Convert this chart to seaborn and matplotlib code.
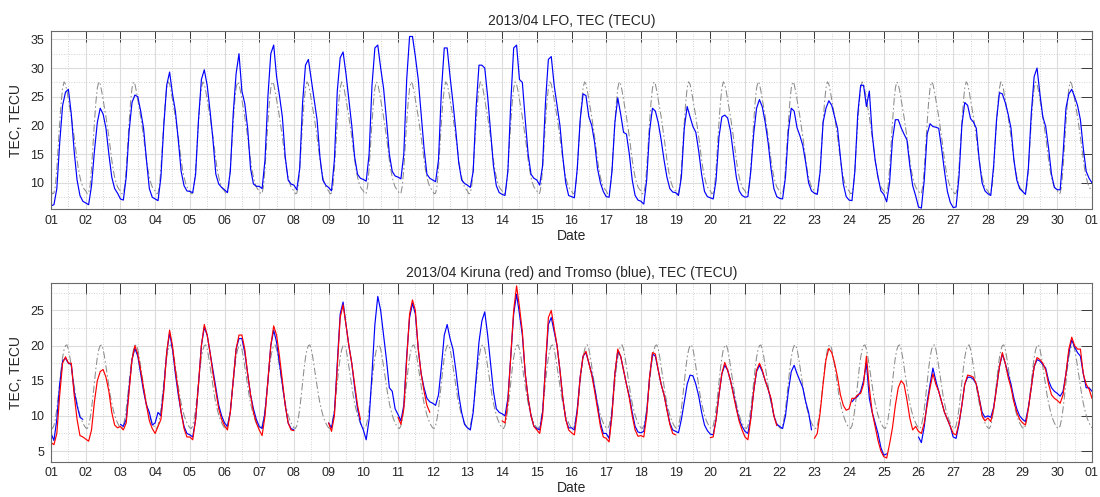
import numpy as np
import pandas as pd
import matplotlib
matplotlib.use("Agg")
import matplotlib.pyplot as plt
import seaborn as sns
from matplotlib.ticker import MultipleLocator, FixedLocator

nan = np.nan

# ---------------- data ----------------
days = list(range(1, 31))                      # April 2013
sample_hours = [0, 2, 4, 6, 8, 10, 12, 14, 16, 18, 20, 22]
tick_labels = ["%02d" % d for d in days] + ["01"]

# monthly reference (grey dash-dot) diurnal profiles, hourly values
lfo_ref_profile = [8.6, 8.1, 8.2, 9.5, 12.5, 16.5, 20.5, 24.0, 26.5, 27.6, 27.2, 26.0,
                   24.5, 23.0, 21.5, 19.8, 18.0, 16.0, 14.0, 12.3, 11.0, 10.0, 9.3, 8.9]
north_ref_profile = [8.3, 8.2, 8.6, 9.6, 11.0, 12.8, 14.8, 16.7, 18.3, 19.4, 20.0, 20.1,
                     19.5, 18.4, 17.0, 15.6, 14.2, 12.9, 11.8, 10.9, 10.1, 9.5, 9.0, 8.6]

# LFO TEC, one row per day (values at sample_hours)
lfo_tec = [
    [6.0, 6.2, 9.0, 17.0, 23.5, 25.8, 26.3, 22.0, 15.5, 10.5, 7.8, 6.8],
    [6.5, 6.2, 9.5, 15.5, 20.5, 23.0, 22.0, 19.5, 15.0, 11.0, 9.0, 8.2],
    [7.2, 7.0, 11.0, 19.0, 24.0, 25.3, 25.0, 22.5, 19.5, 14.0, 9.0, 7.5],
    [7.2, 6.9, 11.0, 20.0, 27.0, 29.3, 25.5, 22.5, 17.5, 12.0, 9.5, 8.6],
    [8.5, 8.3, 11.5, 21.0, 28.0, 29.7, 27.0, 22.5, 17.5, 11.5, 9.8, 9.2],
    [8.8, 8.3, 12.0, 22.0, 29.0, 32.5, 26.0, 23.8, 19.5, 12.5, 9.8, 9.4],
    [9.4, 9.0, 14.0, 25.0, 32.5, 34.0, 28.5, 25.2, 21.5, 14.5, 10.5, 9.8],
    [9.6, 8.8, 12.5, 24.0, 30.5, 31.5, 28.0, 24.5, 21.0, 14.5, 10.5, 9.6],
    [9.2, 8.6, 14.0, 26.0, 31.8, 32.8, 29.0, 24.5, 20.0, 14.5, 11.5, 10.8],
    [10.6, 10.3, 15.0, 27.0, 33.5, 34.0, 30.0, 26.5, 21.0, 15.0, 12.0, 11.2],
    [11.0, 10.7, 15.0, 28.0, 35.5, 35.5, 32.0, 28.0, 22.0, 16.0, 11.5, 10.8],
    [10.5, 10.2, 14.0, 26.0, 33.5, 33.5, 28.5, 24.0, 19.0, 13.5, 10.5, 9.9],
    [9.6, 9.2, 12.0, 23.0, 30.5, 30.5, 30.0, 25.0, 19.0, 13.0, 9.5, 8.3],
    [8.0, 7.8, 12.0, 24.0, 33.5, 34.0, 28.0, 27.5, 21.0, 15.0, 11.5, 10.8],
    [10.5, 9.6, 13.0, 24.0, 31.5, 32.0, 27.0, 23.5, 20.0, 14.5, 10.0, 7.8],
    [7.6, 7.4, 12.5, 21.0, 25.5, 25.2, 21.5, 20.0, 17.0, 12.5, 10.0, 8.5],
    [7.6, 7.5, 12.0, 20.5, 24.8, 22.0, 18.8, 18.5, 15.0, 10.5, 7.8, 7.0],
    [6.8, 6.3, 10.5, 19.0, 23.0, 22.5, 20.5, 17.5, 14.0, 11.0, 9.0, 8.4],
    [8.3, 7.8, 11.0, 19.5, 23.3, 21.5, 19.8, 18.8, 15.5, 11.5, 8.5, 7.6],
    [7.4, 7.2, 10.5, 18.0, 21.5, 21.8, 21.3, 19.0, 15.0, 11.0, 8.6, 7.8],
    [7.5, 7.6, 12.0, 18.5, 23.0, 24.5, 23.2, 20.5, 17.0, 12.5, 9.0, 7.6],
    [7.3, 7.2, 11.0, 19.0, 23.0, 22.5, 19.6, 18.2, 16.5, 13.5, 10.0, 8.6],
    [8.2, 8.0, 12.0, 20.5, 23.0, 24.3, 23.5, 21.5, 19.5, 14.5, 9.8, 7.6],
    [7.0, 6.9, 12.0, 22.0, 27.0, 27.0, 23.3, 26.0, 18.5, 14.0, 11.0, 8.6],
    [8.0, 6.7, 10.0, 17.5, 21.0, 21.0, 19.6, 18.5, 17.5, 13.0, 9.5, 7.8],
    [5.8, 5.6, 10.5, 18.5, 20.3, 19.8, 19.7, 19.5, 16.0, 12.0, 8.5, 6.6],
    [5.7, 5.8, 11.0, 20.0, 24.0, 23.5, 21.2, 20.6, 19.5, 14.0, 10.0, 8.6],
    [8.1, 7.8, 13.0, 21.0, 25.7, 25.5, 24.0, 22.0, 19.5, 14.0, 10.5, 9.0],
    [8.5, 8.0, 12.5, 22.0, 28.5, 30.0, 25.5, 21.5, 19.8, 16.0, 11.5, 9.2],
    [8.8, 8.8, 15.0, 23.0, 25.5, 26.3, 25.0, 23.5, 21.0, 16.0, 12.0, 10.8],
]
lfo_tec_end = 10.0

# Kiruna TEC (red)
kiruna_tec = [
    [6.2, 5.9, 7.5, 13.0, 17.5, 18.4, 17.5, 17.5, 13.0, 9.5, 7.2, 7.0],
    [6.7, 6.4, 8.0, 12.0, 15.0, 16.3, 16.6, 15.5, 13.5, 10.5, 8.7, 8.3],
    [8.5, 8.0, 9.0, 13.5, 18.0, 20.0, 18.8, 16.5, 14.0, 11.5, 9.3, 8.2],
    [7.5, 8.5, 9.5, 13.5, 19.0, 22.2, 20.0, 16.5, 13.5, 10.5, 8.2, 7.0],
    [7.0, 6.6, 9.5, 14.5, 20.0, 23.0, 21.5, 19.0, 16.0, 13.5, 11.0, 9.5],
    [8.6, 8.0, 10.5, 15.0, 19.5, 21.5, 21.5, 19.5, 16.0, 13.0, 10.5, 9.0],
    [8.0, 7.2, 10.0, 15.0, 20.0, 22.8, 21.5, 18.5, 15.0, 11.5, 9.0, 8.0],
    [7.9, nan, nan, nan, nan, nan, nan, nan, nan, nan, nan, nan],
    [9.0, 7.8, 10.0, 17.0, 24.0, 25.8, 23.0, 20.0, 17.5, 14.5, 11.5, 9.5],
    [nan, nan, nan, nan, nan, nan, nan, nan, nan, nan, nan, nan],
    [9.8, 8.8, 11.0, 18.0, 24.5, 26.5, 25.0, 19.5, 16.0, 13.5, 11.5, 10.5],
    [nan, nan, nan, nan, nan, nan, nan, nan, nan, nan, nan, nan],
    [nan, nan, nan, nan, nan, nan, nan, nan, nan, nan, nan, nan],
    [9.3, 9.0, 12.0, 18.5, 25.0, 28.5, 25.5, 22.0, 16.0, 12.5, 10.0, 8.5],
    [8.0, 7.5, 10.0, 17.0, 24.0, 25.0, 22.5, 20.0, 16.5, 12.5, 9.5, 8.0],
    [7.6, 7.3, 10.5, 15.5, 18.5, 19.2, 17.5, 15.8, 13.5, 11.0, 8.5, 7.0],
    [6.8, 6.3, 10.0, 16.0, 19.5, 18.5, 16.5, 14.5, 12.5, 10.0, 8.0, 7.1],
    [7.2, 7.0, 10.0, 15.5, 19.0, 18.8, 16.5, 14.5, 13.0, 10.8, 8.8, 7.5],
    [7.3, nan, nan, nan, nan, nan, nan, nan, nan, nan, nan, nan],
    [6.9, 7.0, 9.5, 13.0, 16.0, 17.6, 16.5, 15.0, 13.0, 11.0, 9.2, 8.0],
    [7.0, 6.6, 9.5, 13.5, 16.5, 17.5, 16.5, 15.0, 13.8, 12.5, 10.0, 8.6],
    [nan, nan, nan, nan, nan, nan, nan, nan, nan, nan, nan, nan],
    [6.8, 7.5, 10.5, 14.5, 18.0, 19.6, 19.0, 17.5, 15.5, 13.0, 11.5, 10.8],
    [11.0, 12.5, 12.5, 13.0, 13.2, 14.5, 18.5, 14.0, 10.5, 8.5, 6.5, 5.0],
    [4.2, 4.0, 6.0, 8.3, 11.5, 14.0, 15.0, 14.5, 12.3, 9.7, 8.0, 8.5],
    [7.8, 7.5, 9.0, 11.5, 14.0, 16.0, 14.5, 13.5, 12.0, 10.5, 9.5, 8.5],
    [7.5, 7.3, 9.0, 11.5, 14.5, 15.8, 15.7, 15.5, 14.5, 12.5, 10.0, 9.3],
    [9.7, 9.2, 11.0, 14.0, 17.0, 19.0, 17.5, 15.5, 14.0, 12.0, 10.5, 9.5],
    [9.0, 8.7, 11.0, 14.0, 17.0, 18.3, 18.0, 17.5, 16.5, 14.5, 13.0, 12.5],
    [12.2, 11.8, 13.0, 16.0, 19.5, 21.2, 20.0, 19.5, 19.5, 16.0, 14.5, 13.8],
]
kiruna_tec_end = 12.5

# Tromso TEC (blue)
tromso_tec = [
    [7.5, 6.5, 9.5, 14.5, 17.8, 18.2, 17.5, 17.3, 13.5, 11.5, 9.8, 9.5],
    [nan, nan, nan, nan, nan, nan, nan, nan, nan, nan, nan, nan],
    [8.8, 8.5, 9.5, 14.0, 18.0, 19.6, 18.5, 16.0, 13.5, 11.5, 10.5, 8.7],
    [9.0, 10.5, 10.0, 14.0, 19.0, 21.8, 19.5, 16.0, 13.0, 10.5, 8.5, 7.5],
    [7.3, 7.0, 9.5, 14.5, 20.0, 22.6, 21.5, 19.0, 16.5, 14.0, 11.5, 10.0],
    [9.0, 8.5, 10.5, 15.0, 19.5, 21.0, 21.0, 19.0, 16.0, 13.0, 11.0, 9.5],
    [8.5, 8.2, 10.5, 15.0, 20.0, 22.2, 20.5, 17.5, 14.5, 11.5, 9.0, 8.2],
    [8.0, nan, nan, nan, nan, nan, nan, nan, nan, nan, nan, nan],
    [9.0, 8.3, 10.5, 17.5, 24.5, 26.2, 23.0, 20.0, 17.5, 14.0, 11.0, 9.0],
    [8.0, 6.6, 9.5, 16.0, 23.0, 27.0, 25.0, 21.5, 18.0, 14.0, 13.5, 11.0],
    [10.2, 9.3, 11.5, 18.5, 24.0, 26.0, 24.5, 19.5, 16.0, 14.0, 12.5, 12.0],
    [11.8, 11.5, 13.0, 17.0, 21.5, 23.0, 21.0, 19.5, 16.5, 13.0, 10.5, 8.8],
    [8.3, 8.0, 10.5, 15.5, 20.5, 23.5, 24.8, 21.5, 17.5, 13.5, 11.0, 10.5],
    [10.3, 10.0, 12.5, 18.5, 24.5, 27.3, 24.5, 21.5, 16.0, 12.5, 10.0, 8.5],
    [8.2, 8.0, 10.5, 17.0, 23.0, 24.0, 22.0, 20.0, 16.5, 12.5, 9.5, 8.3],
    [8.3, 8.0, 11.0, 15.5, 18.5, 19.0, 17.5, 16.0, 14.0, 11.5, 9.0, 7.5],
    [7.5, 6.8, 10.5, 16.0, 19.2, 18.5, 16.5, 14.5, 12.8, 10.5, 8.5, 7.7],
    [7.6, 7.8, 10.5, 15.5, 18.8, 18.5, 16.5, 14.5, 13.0, 11.0, 9.0, 8.0],
    [7.8, 7.6, 9.5, 12.0, 14.5, 15.8, 15.7, 14.5, 12.8, 10.5, 8.7, 7.9],
    [7.4, 7.3, 9.5, 13.0, 16.0, 17.2, 16.5, 15.0, 13.2, 11.2, 9.5, 8.5],
    [7.8, 7.5, 9.8, 13.5, 16.3, 17.2, 16.3, 15.0, 13.8, 12.3, 10.0, 8.8],
    [8.5, 8.2, 10.0, 13.5, 16.3, 17.2, 16.0, 15.0, 14.0, 12.0, 10.5, 8.0],
    [nan, nan, nan, nan, nan, nan, nan, nan, nan, nan, nan, nan],
    [nan, 12.0, 12.5, 12.8, 13.5, 15.0, 17.5, 12.5, 10.5, 9.0, 7.5, 5.5],
    [4.4, 4.6, nan, nan, nan, nan, nan, nan, nan, nan, nan, nan],
    [7.0, 6.2, 8.5, 12.0, 14.5, 16.8, 15.0, 13.5, 12.0, 10.5, 9.5, 8.5],
    [7.0, 6.8, 8.8, 11.5, 14.5, 15.5, 15.5, 15.2, 14.5, 12.5, 10.5, 9.8],
    [10.0, 9.8, 11.2, 14.0, 17.0, 18.8, 17.5, 16.0, 14.5, 12.5, 11.0, 10.0],
    [9.5, 9.2, 11.2, 14.0, 17.0, 18.0, 17.8, 17.3, 16.8, 15.0, 14.0, 13.5],
    [13.2, 12.8, 13.5, 16.0, 19.0, 20.8, 19.8, 19.0, 18.5, 16.0, 14.0, 14.0],
]
tromso_tec_end = 13.5


# ---------------- helpers ----------------
def series_frame(day_rows, end_value, hours):
    t = [d + h / 24.0 for d in days for h in hours] + [days[-1] + 1]
    v = [x for row in day_rows for x in row] + [end_value]
    df = pd.DataFrame({"t": t, "v": v})
    df["seg"] = df["v"].isna().cumsum()
    return df.dropna()


def ref_frame(profile):
    hours = list(range(24))
    rows = [profile for _ in days]
    return series_frame(rows, profile[0], hours)


# ---------------- style ----------------
sns.set_style("white")
plt.rcParams["font.family"] = ["Liberation Sans", "DejaVu Sans"]
txt = "#262626"

fig = plt.figure(figsize=(11.0, 4.97), dpi=100)
ax1 = fig.add_axes([0.0464, 0.5795, 0.9463, 0.3581])
ax2 = fig.add_axes([0.0464, 0.0710, 0.9463, 0.3602])

grey = "#8c8c8c"
dashdot = (0, (7, 2.5, 1.5, 2.5))
lw_data = 0.85

sns.lineplot(data=ref_frame(lfo_ref_profile), x="t", y="v", units="seg",
             estimator=None, sort=False, color=grey, lw=0.75, linestyle=dashdot, ax=ax1)
sns.lineplot(data=series_frame(lfo_tec, lfo_tec_end, sample_hours), x="t", y="v",
             units="seg", estimator=None, sort=False, color="#0000ff", lw=lw_data, ax=ax1)

sns.lineplot(data=ref_frame(north_ref_profile), x="t", y="v", units="seg",
             estimator=None, sort=False, color=grey, lw=0.75, linestyle=dashdot, ax=ax2)
sns.lineplot(data=series_frame(tromso_tec, tromso_tec_end, sample_hours), x="t", y="v",
             units="seg", estimator=None, sort=False, color="#0000ff", lw=lw_data, ax=ax2)
sns.lineplot(data=series_frame(kiruna_tec, kiruna_tec_end, sample_hours), x="t", y="v",
             units="seg", estimator=None, sort=False, color="#ff0000", lw=lw_data, ax=ax2)

titles = ["2013/04 LFO, TEC (TECU)", "2013/04 Kiruna (red) and Tromso (blue), TEC (TECU)"]
ylims = [(5.45, 36.45), (3.48, 28.95)]
for ax, title, yl in zip([ax1, ax2], titles, ylims):
    ax.set_xlim(days[0], days[-1] + 1)
    ax.set_ylim(*yl)
    ax.xaxis.set_major_locator(FixedLocator(days + [days[-1] + 1]))
    ax.set_xticklabels(tick_labels)
    ax.xaxis.set_minor_locator(FixedLocator([d + 0.5 for d in days]))
    ax.yaxis.set_major_locator(MultipleLocator(5))
    ax.yaxis.set_minor_locator(MultipleLocator(2.5))
    ax.grid(which="major", color="#dcdcdc", lw=0.8, ls="-")
    ax.grid(which="minor", color="#c4c4c4", lw=0.6, ls=(0, (1, 2)))
    ax.set_axisbelow(True)
    ax.tick_params(which="major", direction="in", top=True, right=True, length=8,
                   width=0.7, color="#3a3a3a", labelsize=9, labelcolor=txt)
    ax.tick_params(axis="x", which="major", pad=4)
    ax.tick_params(axis="y", which="major", pad=5)
    ax.tick_params(which="minor", length=0)
    for s in ax.spines.values():
        s.set_visible(True)
        s.set_color("#6a6a6a")
        s.set_linewidth(0.8)
    ax.set_title(title, fontsize=10, color=txt, pad=4)
    ax.set_xlabel("Date", fontsize=10, color=txt, labelpad=1.5)
    ax.set_ylabel("TEC, TECU", fontsize=10, color=txt, labelpad=5)

fig.savefig("out.png", dpi=100)
